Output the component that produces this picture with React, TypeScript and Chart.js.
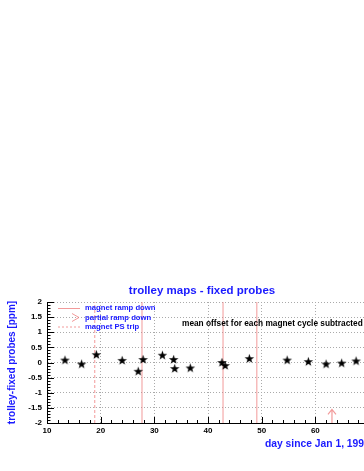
import React, { useEffect, useRef } from 'react';
import { Chart, registerables } from 'chart.js';

Chart.register(...registerables);

// ---- data ----
const days = [13.35, 16.45, 19.2, 24.0, 27.0, 27.9, 31.5, 33.6, 33.8, 36.7, 42.6, 43.2, 47.7, 54.75, 58.7, 62.0, 64.9, 67.6];
const offsets = [0.08, -0.05, 0.26, 0.07, -0.29, 0.1, 0.24, 0.1, -0.2, -0.18, 0.0, -0.1, 0.13, 0.08, 0.03, -0.05, -0.02, 0.05];
const rampDownDays = [27.7, 42.8, 49.1];
const psTripDays = [18.9];
const partialRampDays = [63.1];
const legendLabels = ['magnet ramp down', 'partial ramp down', 'magnet PS trip'];
const titleText = 'trolley maps - fixed probes';
const yTitleText = 'trolley-fixed probes [ppm]';
const xTitleText = 'day since Jan 1, 1999';
const noteText = 'mean offset for each magnet cycle subtracted';
const xRange = [10, 70];
const yRange = [-2, 2];

const FONT = '"Liberation Sans", Arial, Helvetica, sans-serif';
const BLUE = '#1a1aff';
const PINK = 'rgba(238,120,120,0.75)';

function makeStar(): HTMLCanvasElement {
  const c = document.createElement('canvas');
  c.width = 11;
  c.height = 11;
  const ctx = c.getContext('2d')!;
  ctx.beginPath();
  for (let i = 0; i < 10; i++) {
    const r = i % 2 === 0 ? 5.0 : 2.0;
    const a = -Math.PI / 2 + (i * Math.PI) / 5;
    const x = 5.5 + r * Math.cos(a);
    const y = 5.8 + r * Math.sin(a);
    if (i === 0) ctx.moveTo(x, y);
    else ctx.lineTo(x, y);
  }
  ctx.closePath();
  ctx.fillStyle = '#000';
  ctx.fill();
  return c;
}

const overlayPlugin = {
  id: 'overlay',
  afterDraw(chart: any) {
    const ctx: CanvasRenderingContext2D = chart.ctx;
    const xs = chart.scales.x;
    const ys = chart.scales.y;
    const area = chart.chartArea;
    ctx.save();

    // inner ticks
    ctx.strokeStyle = '#000';
    ctx.lineWidth = 1;
    ctx.beginPath();
    for (let v = yRange[0]; v <= yRange[1] + 1e-9; v += 0.1) {
      const py = Math.round(ys.getPixelForValue(v)) + 0.5;
      const major = Math.abs(v * 2 - Math.round(v * 2)) < 1e-6;
      ctx.moveTo(area.left, py);
      ctx.lineTo(area.left + (major ? 7 : 3.5), py);
    }
    for (let v = xRange[0]; v <= xRange[1] + 1e-9; v += 2) {
      const px = Math.round(xs.getPixelForValue(v)) + 0.5;
      const major = Math.abs(v / 10 - Math.round(v / 10)) < 1e-6;
      ctx.moveTo(px, area.bottom);
      ctx.lineTo(px, area.bottom - (major ? 6 : 3));
    }
    ctx.stroke();

    // partial ramp down arrows
    ctx.strokeStyle = PINK;
    ctx.lineWidth = 1.2;
    partialRampDays.forEach((d) => {
      const px = xs.getPixelForValue(d);
      const yb = ys.getPixelForValue(yRange[0]);
      const yt = ys.getPixelForValue(-1.55);
      ctx.beginPath();
      ctx.moveTo(px, yb);
      ctx.lineTo(px, yt);
      ctx.moveTo(px - 4, yt + 5);
      ctx.lineTo(px, yt);
      ctx.lineTo(px + 4, yt + 5);
      ctx.stroke();
    });

    // title
    ctx.fillStyle = BLUE;
    ctx.textBaseline = 'middle';
    ctx.textAlign = 'center';
    ctx.font = `bold 11.5px ${FONT}`;
    ctx.fillText(titleText, 202, 291);

    // x title
    ctx.font = `bold 10.3px ${FONT}`;
    ctx.textAlign = 'left';
    ctx.fillText(xTitleText, 265, 444);

    // y title
    ctx.save();
    ctx.translate(12.5, (area.top + area.bottom) / 2);
    ctx.rotate(-Math.PI / 2);
    ctx.textAlign = 'center';
    ctx.font = `bold 10px ${FONT}`;
    ctx.fillText(yTitleText, 0, 0);
    ctx.restore();

    // legend
    const rows = [308, 317.5, 326.5];
    ctx.font = `bold 7.7px ${FONT}`;
    ctx.textAlign = 'left';
    ctx.fillStyle = BLUE;
    legendLabels.forEach((t, i) => ctx.fillText(t, 85, rows[i]));
    ctx.strokeStyle = PINK;
    ctx.lineWidth = 1;
    ctx.beginPath();
    ctx.moveTo(58, rows[0] + 0.5);
    ctx.lineTo(80, rows[0] + 0.5);
    ctx.stroke();
    ctx.beginPath();
    ctx.moveTo(72, rows[1] - 4);
    ctx.lineTo(79, rows[1]);
    ctx.lineTo(72, rows[1] + 4);
    ctx.stroke();
    ctx.setLineDash([2, 2]);
    ctx.beginPath();
    ctx.moveTo(58, rows[2] + 0.5);
    ctx.lineTo(80, rows[2] + 0.5);
    ctx.stroke();
    ctx.setLineDash([]);

    // note
    ctx.fillStyle = '#000';
    ctx.font = `bold 8.3px ${FONT}`;
    ctx.fillText(noteText, 182, 323.5);

    ctx.restore();
  },
};

export default function App() {
  const ref = useRef<HTMLCanvasElement>(null);
  useEffect(() => {
    const star = makeStar();
    const vline = (d: number, dashed: boolean) => ({
      type: 'scatter' as const,
      data: [
        { x: d, y: yRange[0] },
        { x: d, y: yRange[1] },
      ],
      showLine: true,
      borderColor: PINK,
      borderWidth: 1,
      borderDash: dashed ? [3, 2] : [],
      pointRadius: 0,
      pointHoverRadius: 0,
    });
    const chart = new Chart(ref.current!, {
      type: 'scatter',
      data: {
        datasets: [
          {
            data: days.map((d, i) => ({ x: d, y: offsets[i] })),
            pointStyle: star as any,
            pointRadius: 5,
            backgroundColor: '#000',
            borderColor: '#000',
          },
          ...rampDownDays.map((d) => vline(d, false)),
          ...psTripDays.map((d) => vline(d, true)),
        ] as any,
      },
      options: {
        responsive: false,
        animation: false,
        devicePixelRatio: 1,
        layout: { padding: { left: 10, top: 302, right: 41, bottom: 28 } },
        plugins: { legend: { display: false }, title: { display: false }, tooltip: { enabled: false } },
        scales: {
          x: {
            type: 'linear',
            min: xRange[0],
            max: xRange[1],
            afterFit: (s: any) => {
              s.height = 20;
            },
            ticks: {
              stepSize: 10,
              padding: 3,
              color: '#000',
              maxRotation: 0,
              font: { family: FONT, size: 8, weight: 'bold' },
            },
            grid: { color: '#aaa', drawTicks: false, lineWidth: 1 },
            border: { display: true, color: '#000', width: 1, dash: [1, 2] as any },
          },
          y: {
            type: 'linear',
            min: yRange[0],
            max: yRange[1],
            afterFit: (s: any) => {
              s.width = 37;
            },
            ticks: {
              stepSize: 0.5,
              padding: 5,
              color: '#000',
              font: { family: FONT, size: 8, weight: 'bold' },
              callback: (v: any) => String(Number(Number(v).toFixed(1))),
            },
            grid: { color: '#aaa', drawTicks: false, lineWidth: 1 },
            border: { display: true, color: '#000', width: 1, dash: [1, 2] as any },
          },
        },
      } as any,
      plugins: [overlayPlugin],
    });
    return () => chart.destroy();
  }, []);
  return (
    <div style={{ position: 'absolute', left: 0, top: 0, width: 364, height: 471, overflow: 'hidden', background: '#fff' }}>
      <canvas ref={ref} width={410} height={471} style={{ display: 'block', width: 410, height: 471 }} />
    </div>
  );
}
